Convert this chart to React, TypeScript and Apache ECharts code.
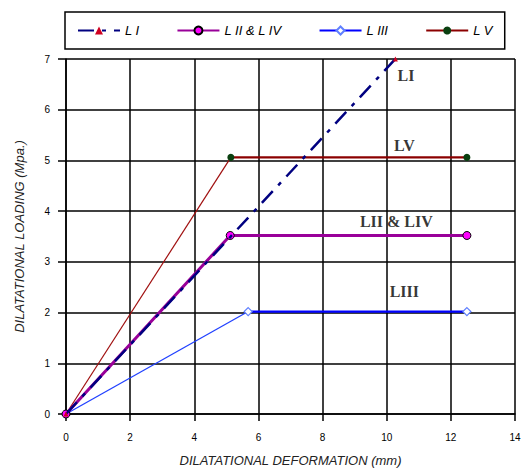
import React, { useEffect, useRef } from "react";
import * as echarts from "echarts";

const xTicks = [0, 2, 4, 6, 8, 10, 12, 14];
const yTicks = [0, 1, 2, 3, 4, 5, 6, 7];
const seriesNames = ["L I", "L II & L IV", "L III", "L V"];
const l1Data = [[0, 0], [10.27, 7]];
const l2l4Data = [[0, 0], [5.12, 3.52], [12.5, 3.52]];
const l3Rise = [[0, 0], [5.68, 2.02]];
const l3Flat = [[5.68, 2.02], [12.5, 2.02]];
const l5Rise = [[0, 0], [5.14, 5.06]];
const l5Flat = [[5.14, 5.06], [12.5, 5.06]];
const annotations = [
  { text: "LI", x: 10.6, y: 6.68 },
  { text: "LV", x: 10.55, y: 5.3 },
  { text: "LII & LIV", x: 10.3, y: 3.8 },
  { text: "LIII", x: 10.55, y: 2.42 },
];

export default function App() {
  const ref = useRef<HTMLDivElement>(null);
  useEffect(() => {
    if (!ref.current) return;
    const chart = echarts.init(ref.current, null, { renderer: "svg" });
    const sans = "Liberation Sans";
    chart.setOption({
      animation: false,
      backgroundColor: "#ffffff",
      grid: { left: 66, top: 59, width: 449, height: 356, containLabel: false },
      legend: {
        left: 65,
        top: 12,
        borderColor: "#000",
        borderWidth: 1.5,
        padding: [12, 12, 12, 12],
        itemGap: 37,
        itemWidth: 42,
        itemHeight: 10,
        textStyle: { fontFamily: sans, fontStyle: "italic", fontSize: 13, color: "#000" },
        data: seriesNames,
      },
      xAxis: {
        type: "value",
        min: 0,
        max: 14,
        interval: 2,
        name: "DILATATIONAL DEFORMATION (mm)",
        nameLocation: "middle",
        nameGap: 40,
        nameTextStyle: { fontFamily: sans, fontStyle: "italic", fontSize: 13, color: "#222" },
        axisLine: { lineStyle: { color: "#000", width: 1.5 } },
        axisTick: { show: true, length: 7, lineStyle: { color: "#000", width: 1.5 } },
        axisLabel: { formatter: (v: number) => String(v), margin: 18, fontFamily: sans, fontSize: 10, color: "#000" },
        splitLine: { show: true, lineStyle: { color: "#000", width: 1.5 } },
      },
      yAxis: {
        type: "value",
        min: 0,
        max: 7,
        interval: 1,
        name: "DILATATIONAL LOADING (Mpa.)",
        nameLocation: "middle",
        nameGap: 40,
        nameTextStyle: { fontFamily: sans, fontStyle: "italic", fontSize: 13, color: "#222" },
        axisLine: { show: true, lineStyle: { color: "#000", width: 1.5 } },
        axisTick: { show: true, length: 8, lineStyle: { color: "#000", width: 1.5 } },
        axisLabel: { formatter: (v: number) => String(v), margin: 16, fontFamily: sans, fontSize: 10, color: "#000" },
        splitLine: { show: true, lineStyle: { color: "#000", width: 1.5 } },
      },
      series: [
        {
          name: seriesNames[0],
          type: "line",
          data: l1Data,
          z: 5,
          lineStyle: { color: "#000080", width: 2.5, type: [16, 8, 4, 8] },
          itemStyle: { color: "#d00020" },
          symbol: "triangle",
          symbolSize: 5,
        },
        {
          name: seriesNames[1],
          type: "line",
          data: l2l4Data,
          z: 4,
          lineStyle: { color: "#990099", width: 3 },
          itemStyle: { color: "#ff00ff", borderColor: "#000", borderWidth: 1 },
          symbol: "circle",
          symbolSize: 8,
        },
        {
          type: "line",
          data: l3Rise,
          z: 3,
          lineStyle: { color: "#2040ff", width: 1.3 },
          symbol: "none",
        },
        {
          name: seriesNames[2],
          type: "line",
          data: l3Flat,
          z: 3,
          lineStyle: { color: "#0000ff", width: 2.2 },
          itemStyle: { color: "#ffffff", borderColor: "#6080ff", borderWidth: 1.2 },
          symbol: "diamond",
          symbolSize: 8,
        },
        {
          type: "line",
          data: l5Rise,
          z: 3,
          lineStyle: { color: "#a01010", width: 1.2 },
          symbol: "none",
        },
        {
          name: seriesNames[3],
          type: "line",
          data: l5Flat,
          z: 3,
          lineStyle: { color: "#8b0000", width: 2.2 },
          itemStyle: { color: "#0a4010" },
          symbol: "circle",
          symbolSize: 7,
        },
        {
          type: "scatter",
          silent: true,
          symbolSize: 0,
          z: 6,
          data: annotations.map((a) => ({ value: [a.x, a.y], name: a.text })),
          label: {
            show: true,
            position: "inside",
            formatter: (p: any) => p.name,
            fontFamily: "Liberation Serif",
            fontWeight: "bold",
            fontSize: 16,
            color: "#000",
          },
        },
      ],
    });
    return () => chart.dispose();
  }, []);
  return (
    <div
      ref={ref}
      style={{ position: "fixed", left: 0, top: 0, width: 527, height: 472 }}
    />
  );
}
